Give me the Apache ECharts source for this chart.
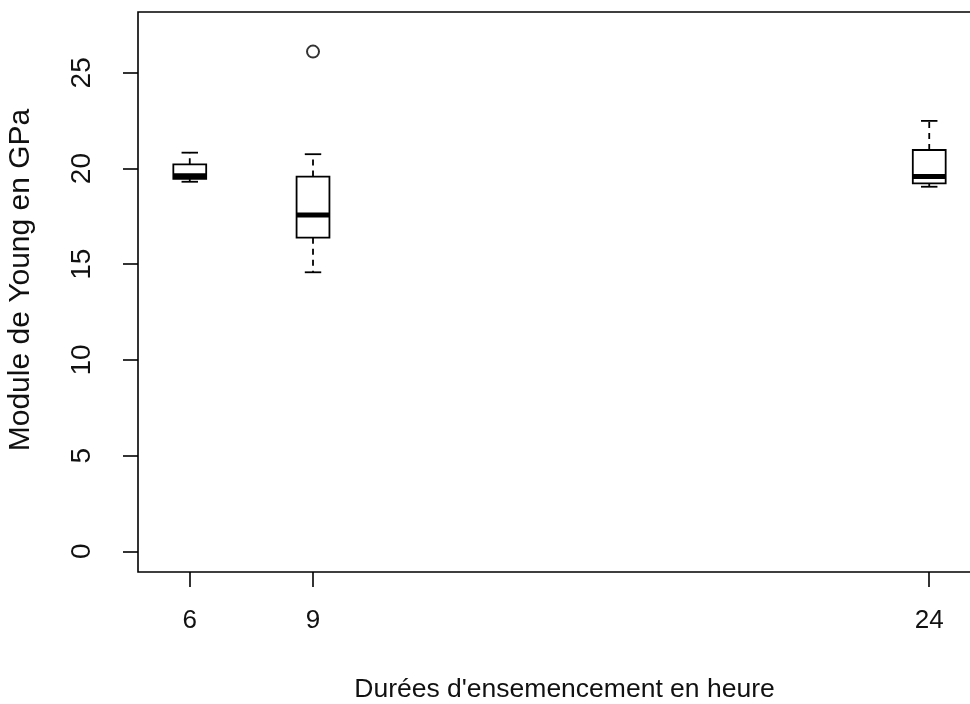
<!DOCTYPE html>
<html>
<head>
<meta charset="utf-8">
<script src="https://cdn.jsdelivr.net/npm/echarts@6/dist/echarts.min.js"></script>
<style>html,body{margin:0;padding:0;background:#fff}#c{width:970px;height:704px}</style>
</head>
<body>
<div id="c"></div>
<script>
// Data
const positions = [6, 9, 24];
const whiskerLow = [19.31, 14.58, 19.05];
const q1 = [19.46, 16.39, 19.23];
const medians = [19.63, 17.57, 19.58];
const q3 = [20.22, 19.58, 20.97];
const whiskerHigh = [20.83, 20.75, 22.49];
const outlierX = [9];
const outlierY = [26.11];
const xTicks = [6, 9, 24];
const yTicks = [0, 5, 10, 15, 20, 25];
const xTitle = "Durées d'ensemencement en heure";
const yTitle = "Module de Young en GPa";

const boxData = positions.map((p, i) => [p, whiskerLow[i], q1[i], medians[i], q3[i], whiskerHigh[i]]);
const outData = outlierX.map((x, i) => [x, outlierY[i]]);

const FONT = "Liberation Sans, Arial, sans-serif";
const chart = echarts.init(document.getElementById('c'), null, {renderer: 'canvas'});

function renderBox(params, api) {
  const x = api.value(0);
  const lo = api.coord([x, api.value(1)]);
  const b1 = api.coord([x, api.value(2)]);
  const md = api.coord([x, api.value(3)]);
  const b3 = api.coord([x, api.value(4)]);
  const hi = api.coord([x, api.value(5)]);
  const hw = api.size([0.8, 0])[0] / 2;
  const cw = hw / 2;
  const cx = lo[0];
  const solid = {stroke: '#000', lineWidth: 1.8};
  const dashed = {stroke: '#000', lineWidth: 1.8, lineDash: [6, 5]};
  return {
    type: 'group',
    children: [
      {type: 'line', shape: {x1: cx, y1: b3[1], x2: cx, y2: hi[1]}, style: dashed},
      {type: 'line', shape: {x1: cx, y1: b1[1], x2: cx, y2: lo[1]}, style: dashed},
      {type: 'line', shape: {x1: cx - cw, y1: hi[1], x2: cx + cw, y2: hi[1]}, style: solid},
      {type: 'line', shape: {x1: cx - cw, y1: lo[1], x2: cx + cw, y2: lo[1]}, style: solid},
      {type: 'rect', shape: {x: cx - hw, y: b3[1], width: 2 * hw, height: b1[1] - b3[1]}, style: {fill: '#fff', stroke: '#000', lineWidth: 1.8}},
      {type: 'line', shape: {x1: cx - hw, y1: md[1], x2: cx + hw, y2: md[1]}, style: {stroke: '#000', lineWidth: 5}}
    ]
  };
}

chart.setOption({
  animation: false,
  backgroundColor: '#fff',
  grid: {left: 138, top: 12, width: 843, bottom: 132, outerBoundsMode: 'none', containLabel: false,
         show: true, borderColor: '#000', borderWidth: 1.6, backgroundColor: 'transparent'},
  xAxis: {
    type: 'value', min: 4.74, max: 25.26,
    splitLine: {show: false},
    axisLine: {show: false, onZero: false},
    axisTick: {show: true, customValues: xTicks, length: 15, inside: false, lineStyle: {color: '#000', width: 1.6}},
    axisLabel: {customValues: xTicks, margin: 36, fontSize: 26, color: '#111', fontFamily: FONT},
    name: xTitle, nameLocation: 'middle', nameGap: 104,
    nameTextStyle: {fontSize: 26.5, color: '#111', fontFamily: FONT, padding: [0, 0, 0, 10]}
  },
  yAxis: {
    type: 'value', min: -1.08, max: 28.18,
    splitLine: {show: false},
    axisLine: {show: false, onZero: false},
    axisTick: {show: true, customValues: yTicks, length: 15, lineStyle: {color: '#000', width: 1.6}},
    axisLabel: {customValues: yTicks, rotate: 90, margin: 42, fontSize: 28, color: '#111', fontFamily: FONT},
    name: yTitle, nameLocation: 'middle', nameGap: 102,
    nameTextStyle: {fontSize: 30, color: '#111', fontFamily: FONT, padding: [0, 0, 0, 24]}
  },
  series: [
    {type: 'custom', renderItem: renderBox, data: boxData, encode: {x: 0, y: [1, 2, 3, 4, 5]}, z: 2},
    {type: 'scatter', data: outData, symbol: 'emptyCircle', symbolSize: 12, z: 3,
     itemStyle: {color: '#000', borderColor: '#000', borderWidth: 1.6}}
  ]
});
</script>
</body>
</html>
